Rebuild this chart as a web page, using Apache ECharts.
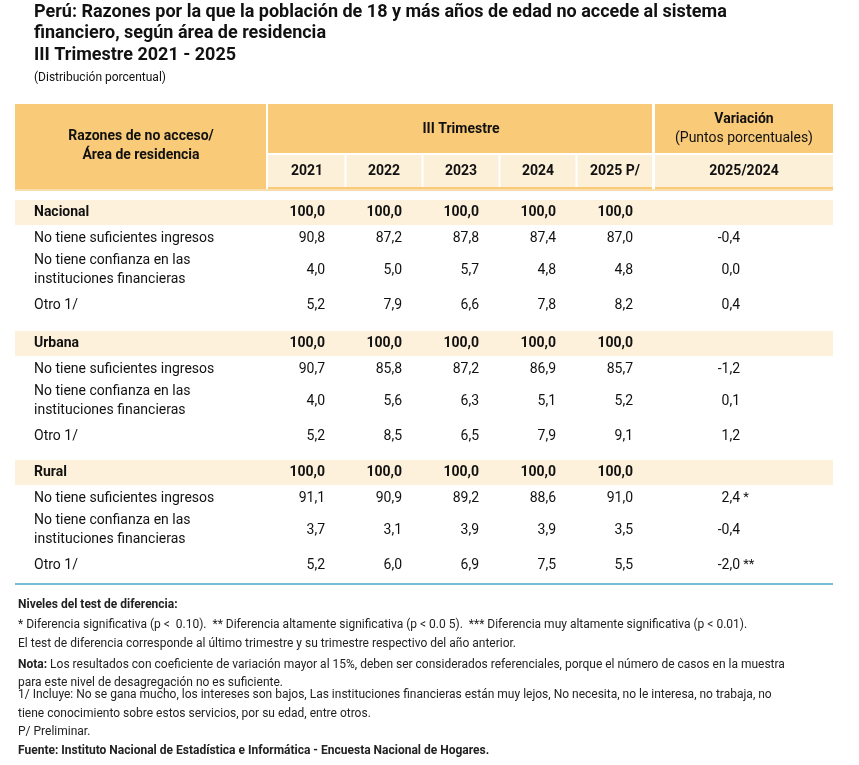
<!DOCTYPE html>
<html>
<head>
<meta charset="utf-8">
<script src="https://cdn.jsdelivr.net/npm/echarts@6/dist/echarts.min.js"></script>
<style>html,body{margin:0;padding:0;background:#fff}#chart{width:859px;height:765px}</style>
</head>
<body>
<div id="chart"></div>
<script>
var years = ["2021", "2022", "2023", "2024", "2025 P/"];
var areas = ["Nacional", "Urbana", "Rural"];
var reasons = ["No tiene suficientes ingresos", "No tiene confianza en las\ninstituciones financieras", "Otro 1/"];
var nacional = [[90.8, 87.2, 87.8, 87.4, 87.0], [4.0, 5.0, 5.7, 4.8, 4.8], [5.2, 7.9, 6.6, 7.8, 8.2]];
var urbana = [[90.7, 85.8, 87.2, 86.9, 85.7], [4.0, 5.6, 6.3, 5.1, 5.2], [5.2, 8.5, 6.5, 7.9, 9.1]];
var rural = [[91.1, 90.9, 89.2, 88.6, 91.0], [3.7, 3.1, 3.9, 3.9, 3.5], [5.2, 6.0, 6.9, 7.5, 5.5]];
var variacion = [[-0.4, 0.0, 0.4], [-1.2, 0.1, 1.2], [2.4, -0.4, -2.0]];
var signif = [["", "", ""], ["", "", ""], [" *", "", " **"]];
var totals = [100, 100, 100, 100, 100];

var fmt = function (v) { return v.toFixed(1).replace(".", ","); };
var font = "Roboto, 'Noto Sans', sans-serif";
var g = [];
function txt(x, y, s, o) {
    o = o || {};
    g.push({ type: "text", x: x, y: y, style: {
        text: s, fill: o.fill || "#111", font: (o.bold ? "bold " : "") + (o.size || 14) + "px " + font,
        align: o.align || "left", verticalAlign: "middle", lineHeight: o.lh || 19
    }});
}
function rect(x, y, w, h, c) {
    g.push({ type: "rect", shape: { x: x, y: y, width: w, height: h }, style: { fill: c } });
}

// titulo
txt(34, 12, "Perú: Razones por la que la población de 18 y más años de edad no accede al sistema", { bold: true, size: 18 });
txt(34, 33, "financiero, según área de residencia", { bold: true, size: 18 });
txt(34, 55, "III Trimestre 2021 - 2025", { bold: true, size: 18 });
txt(34, 78, "(Distribución porcentual)", { size: 12 });

// cabecera
var colX = [307, 384, 461, 538, 615];
var varX = 728;
rect(15, 104, 818, 85, "#F9CA78");
rect(268, 155, 384, 32, "#FDF0D9");
rect(655, 155, 178, 32, "#FDF0D9");
rect(266, 104, 2, 85, "#ffffff");
rect(652, 104, 3, 85, "#ffffff");
rect(268, 153, 384, 2, "#ffffff");
rect(655, 153, 178, 2, "#ffffff");
for (var i = 1; i < 5; i++) rect((colX[i - 1] + colX[i]) / 2 - 1, 155, 2, 32, "#ffffff");
rect(15, 189, 818, 2, "#F9DDAA");
txt(141, 136, "Razones de no acceso/", { bold: true, align: "center" });
txt(141, 155, "Área de residencia", { bold: true, align: "center" });
txt(461, 129, "III Trimestre", { bold: true, align: "center" });
txt(744, 119, "Variación", { bold: true, align: "center" });
txt(744, 138, "(Puntos porcentuales)", { align: "center" });
years.forEach(function (y, i) { txt(colX[i], 171, y, { bold: true, align: "center" }); });
txt(744, 171, "2025/2024", { bold: true, align: "center" });

// cuerpo
var blocks = [nacional, urbana, rural];
var bandY = [212, 343, 472];
var rowOff = [26, 58, 93];
blocks.forEach(function (data, b) {
    var y0 = bandY[b];
    rect(15, y0 - 12, 818, 25, "#FEF1DC");
    txt(34, y0, areas[b], { bold: true });
    totals.forEach(function (t, i) { txt(colX[i] + 18, y0, fmt(t), { bold: true, align: "right" }); });
    reasons.forEach(function (r, k) {
        var y = y0 + rowOff[k];
        txt(34, y, r);
        data[k].forEach(function (v, i) { txt(colX[i] + 18, y, fmt(v), { align: "right" }); });
        txt(varX + 12, y, fmt(variacion[b][k]), { align: "right" });
        if (signif[b][k]) txt(varX + 12, y, signif[b][k], { size: 13 });
    });
});
rect(15, 583, 818, 2, "#7DBDD3");

// notas
var ns = 12;
txt(18, 605, "Niveles del test de diferencia:", { size: ns, bold: true, fill: "#222" });
txt(18, 625, "* Diferencia significativa (p <  0.10).  ** Diferencia altamente significativa (p < 0.0 5).  *** Diferencia muy altamente significativa (p < 0.01).", { size: ns, fill: "#222" });
txt(18, 644, "El test de diferencia corresponde al último trimestre y su trimestre respectivo del año anterior.", { size: ns, fill: "#222" });
g.push({ type: "text", x: 18, y: 656, style: { text: "{b|Nota:} Los resultados con coeficiente de variación mayor al 15%, deben ser considerados referenciales, porque el número de casos en la muestra\npara este nivel de desagregación no es suficiente.",
    font: ns + "px " + font, fill: "#222", lineHeight: 18, rich: { b: { fontWeight: "bold", fontSize: ns, fontFamily: font, fill: "#222" } } } });
txt(18, 695, "1/ Incluye: No se gana mucho, los intereses son bajos, Las instituciones financieras están muy lejos, No necesita, no le interesa, no trabaja, no", { size: ns, fill: "#222" });
txt(18, 714, "tiene conocimiento sobre estos servicios, por su edad, entre otros.", { size: ns, fill: "#222" });
txt(18, 732, "P/ Preliminar.", { size: ns, fill: "#222" });
txt(18, 751, "Fuente: Instituto Nacional de Estadística e Informática - Encuesta Nacional de Hogares.", { size: ns, bold: true, fill: "#222" });

var chart = echarts.init(document.getElementById("chart"));
chart.setOption({ animation: false, graphic: { elements: g } });
</script>
</body>
</html>
